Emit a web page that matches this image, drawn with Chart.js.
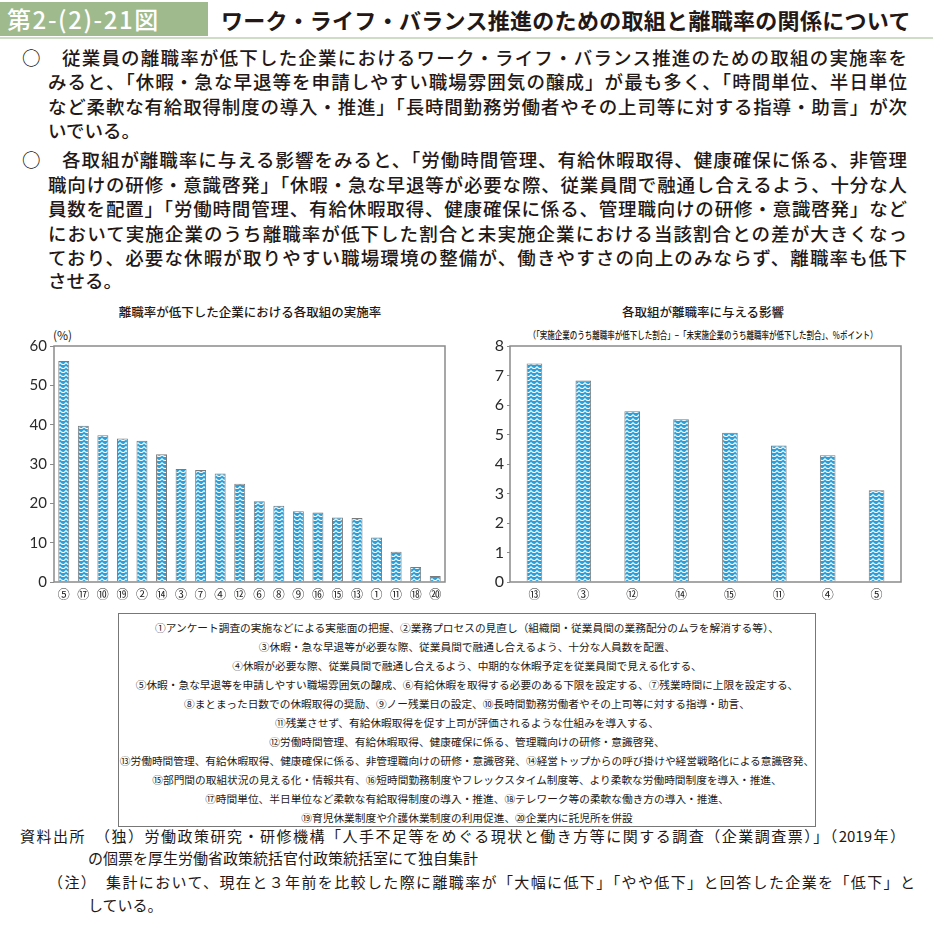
<!DOCTYPE html>
<html lang="ja">
<head>
<meta charset="utf-8">
<script src="https://cdn.jsdelivr.net/npm/chart.js@4/dist/chart.umd.min.js"></script>
<style>
  body { margin: 0; background: #fff; width: 933px; height: 929px; position: relative; overflow: hidden;
         font-family: "Noto Sans CJK JP", sans-serif; color: #231815; }
  .abs { position: absolute; white-space: nowrap; }
  .just { text-align: justify; text-align-last: justify; }
  .p { font-size: 18.5px; font-weight: 500; line-height: 24px; }
  .legend { position: absolute; left: 118px; top: 613px; width: 698px; height: 214px; border: 1px solid #777;
            padding-top: 4px; box-sizing: border-box; }
  .legend div { text-align: center; font-size: 10.7px; line-height: 19px; white-space: nowrap; }
  .foot { font-size: 15px; line-height: 22px; }
</style>
</head>
<body>
<!-- 見出し -->
<div class="abs" style="left:0;top:2px;width:208px;height:34px;background:#9fba8d;"></div>
<div class="abs" style="left:7px;top:2px;line-height:34px;font-size:24px;color:#fff;font-weight:500;letter-spacing:1.6px;">第2-(2)-21図</div>
<div class="abs" style="left:221px;top:2px;line-height:34px;font-size:22px;font-weight:700;letter-spacing:0.3px;">ワーク・ライフ・バランス推進のための取組と離職率の関係について</div>
<div class="abs" style="left:0;top:37px;width:933px;height:2px;background:#cfdcc6;"></div>

<!-- 本文 -->
<div class="abs p" style="left:22px;top:45px;">○</div>
<div class="abs p just" style="left:62px;top:45px;width:845px;">従業員の離職率が低下した企業におけるワーク・ライフ・バランス推進のための取組の実施率を</div>
<div class="abs p just" style="left:48px;top:69px;width:859px;">みると、「休暇・急な早退等を申請しやすい職場雰囲気の醸成」が最も多く、「時間単位、半日単位</div>
<div class="abs p just" style="left:48px;top:94px;width:859px;">など柔軟な有給取得制度の導入・推進」「長時間勤務労働者やその上司等に対する指導・助言」が次</div>
<div class="abs p" style="left:48px;top:118px;">いでいる。</div>

<div class="abs p" style="left:22px;top:147px;">○</div>
<div class="abs p just" style="left:62px;top:147px;width:845px;">各取組が離職率に与える影響をみると、「労働時間管理、有給休暇取得、健康確保に係る、非管理</div>
<div class="abs p just" style="left:48px;top:172px;width:859px;">職向けの研修・意識啓発」「休暇・急な早退等が必要な際、従業員間で融通し合えるよう、十分な人</div>
<div class="abs p just" style="left:48px;top:196px;width:859px;">員数を配置」「労働時間管理、有給休暇取得、健康確保に係る、管理職向けの研修・意識啓発」など</div>
<div class="abs p just" style="left:48px;top:221px;width:859px;">において実施企業のうち離職率が低下した割合と未実施企業における当該割合との差が大きくなっ</div>
<div class="abs p just" style="left:48px;top:245px;width:859px;">ており、必要な休暇が取りやすい職場環境の整備が、働きやすさの向上のみならず、離職率も低下</div>
<div class="abs p" style="left:48px;top:268px;">させる。</div>

<!-- グラフ見出し -->
<div class="abs" style="left:117px;top:302px;width:266px;text-align:center;font-size:12.5px;font-weight:500;">離職率が低下した企業における各取組の実施率</div>
<div class="abs" style="left:53px;top:326px;font-size:12px;">(%)</div>
<div class="abs" style="left:620px;top:302px;width:166px;text-align:center;font-size:12.5px;font-weight:500;">各取組が離職率に与える影響</div>
<div class="abs" style="left:463px;top:327px;width:480px;text-align:center;font-size:10px;font-weight:500;transform:scaleX(0.75);">（「実施企業のうち離職率が低下した割合」−「未実施企業のうち離職率が低下した割合」、%ポイント）</div>

<canvas id="leftChart" class="abs" style="left:0;top:330px;"></canvas>
<canvas id="rightChart" class="abs" style="left:465px;top:330px;"></canvas>

<!-- 凡例 -->
<div class="legend">
  <div>①アンケート調査の実施などによる実態面の把握、②業務プロセスの見直し（組織間・従業員間の業務配分のムラを解消する等）、</div>
  <div>③休暇・急な早退等が必要な際、従業員間で融通し合えるよう、十分な人員数を配置、</div>
  <div>④休暇が必要な際、従業員間で融通し合えるよう、中期的な休暇予定を従業員間で見える化する、</div>
  <div>⑤休暇・急な早退等を申請しやすい職場雰囲気の醸成、⑥有給休暇を取得する必要のある下限を設定する、⑦残業時間に上限を設定する、</div>
  <div>⑧まとまった日数での休暇取得の奨励、⑨ノー残業日の設定、⑩長時間勤務労働者やその上司等に対する指導・助言、</div>
  <div>⑪残業させず、有給休暇取得を促す上司が評価されるような仕組みを導入する、</div>
  <div>⑫労働時間管理、有給休暇取得、健康確保に係る、管理職向けの研修・意識啓発、</div>
  <div>⑬労働時間管理、有給休暇取得、健康確保に係る、非管理職向けの研修・意識啓発、⑭経営トップからの呼び掛けや経営戦略化による意識啓発、</div>
  <div>⑮部門間の取組状況の見える化・情報共有、⑯短時間勤務制度やフレックスタイム制度等、より柔軟な労働時間制度を導入・推進、</div>
  <div>⑰時間単位、半日単位など柔軟な有給取得制度の導入・推進、⑱テレワーク等の柔軟な働き方の導入・推進、</div>
  <div>⑲育児休業制度や介護休業制度の利用促進、⑳企業内に託児所を併設</div>
</div>

<!-- 資料出所 -->
<div class="abs foot just" style="left:20px;top:825px;width:885px;">資料出所　（独）労働政策研究・研修機構「人手不足等をめぐる現状と働き方等に関する調査（企業調査票）」（2019年）</div>
<div class="abs foot" style="left:88px;top:847px;">の個票を厚生労働省政策統括官付政策統括室にて独自集計</div>
<div class="abs foot just" style="left:48px;top:871px;width:867px;">（注）　集計において、現在と３年前を比較した際に離職率が「大幅に低下」「やや低下」と回答した企業を「低下」と</div>
<div class="abs foot" style="left:88px;top:894px;">している。</div>

<script>
// データ
const leftLabels = ['⑤','⑰','⑩','⑲','②','⑭','③','⑦','④','⑫','⑥','⑧','⑨','⑯','⑮','⑬','①','⑪','⑱','⑳'];
const leftValues = [56.2, 39.7, 37.3, 36.5, 35.9, 32.5, 28.7, 28.5, 27.6, 25.0, 20.5, 19.4, 18.0, 17.7, 16.4, 16.3, 11.3, 7.7, 3.8, 1.5];
const leftTicks = [0, 10, 20, 30, 40, 50, 60];

const rightLabels = ['⑬','③','⑫','⑭','⑮','⑪','④','⑤'];
const rightValues = [7.41, 6.83, 5.79, 5.52, 5.06, 4.63, 4.30, 3.11];
const rightTicks = [0, 1, 2, 3, 4, 5, 6, 7, 8];

// 棒の柄（青地に白の波）
function makePattern() {
    const c = document.createElement('canvas');
    c.width = 6; c.height = 4;
    const g = c.getContext('2d');
    g.fillStyle = '#2a9fd8';
    g.fillRect(0, 0, 6, 4);
    g.strokeStyle = 'rgba(255,255,255,0.95)';
    g.lineWidth = 1.2;
    g.beginPath();
    g.arc(3, -0.5, 3, 0.1 * Math.PI, 0.9 * Math.PI);
    g.stroke();
    return g.createPattern(c, 'repeat');
}
const pattern = makePattern();

// 枠線を描くプラグイン
const frame = {
    id: 'frame',
    afterDraw(chart) {
        const a = chart.chartArea;
        const g = chart.ctx;
        g.save();
        g.strokeStyle = '#8a8a8a';
        g.lineWidth = 1.5;
        g.strokeRect(a.left, a.top, a.right - a.left, a.bottom - a.top);
        g.restore();
    }
};

function makeChart(id, labels, values, ticks, opts) {
    const ctx = document.getElementById(id);
    ctx.width = opts.w; ctx.height = opts.h;
    ctx.style.width = opts.w + 'px'; ctx.style.height = opts.h + 'px';
    return new Chart(ctx, {
        type: 'bar',
        data: {
            labels: labels,
            datasets: [{
                data: values,
                backgroundColor: pattern,
                borderColor: '#7a7a7a',
                borderWidth: 1,
                borderSkipped: 'bottom',
                categoryPercentage: 1,
                barPercentage: opts.bar
            }]
        },
        options: {
            responsive: false,
            animation: false,
            devicePixelRatio: 1,
            plugins: { legend: { display: false }, tooltip: { enabled: false } },
            layout: { padding: { top: 16, right: opts.right, left: 0, bottom: 0 } },
            scales: {
                x: {
                    grid: { display: false, drawTicks: false },
                    border: { display: false },
                    ticks: { color: '#222', font: { family: '"Noto Sans CJK JP"', size: 12 }, padding: 5, maxRotation: 0, autoSkip: false },
                    afterFit: (s) => { s.height = 28; }
                },
                y: {
                    min: ticks[0],
                    max: ticks[ticks.length - 1],
                    afterBuildTicks: (s) => { s.ticks = ticks.map(v => ({ value: v })); },
                    grid: { drawOnChartArea: false, drawTicks: true, tickLength: opts.tick, color: '#8a8a8a' },
                    border: { display: false },
                    ticks: { color: '#2a2a2a', font: { family: 'Lato, "Open Sans", sans-serif', size: opts.font }, padding: 3 },
                    afterFit: (s) => { s.width = opts.yw; }
                }
            }
        },
        plugins: [frame]
    });
}

makeChart('leftChart', leftLabels, leftValues, leftTicks, { w: 460, h: 280, right: 15, yw: 54, bar: 0.56, font: 15, tick: 4 });
makeChart('rightChart', rightLabels, rightValues, rightTicks, { w: 460, h: 280, right: 24, yw: 45, bar: 0.32, font: 16, tick: 3 });
</script>
</body>
</html>
